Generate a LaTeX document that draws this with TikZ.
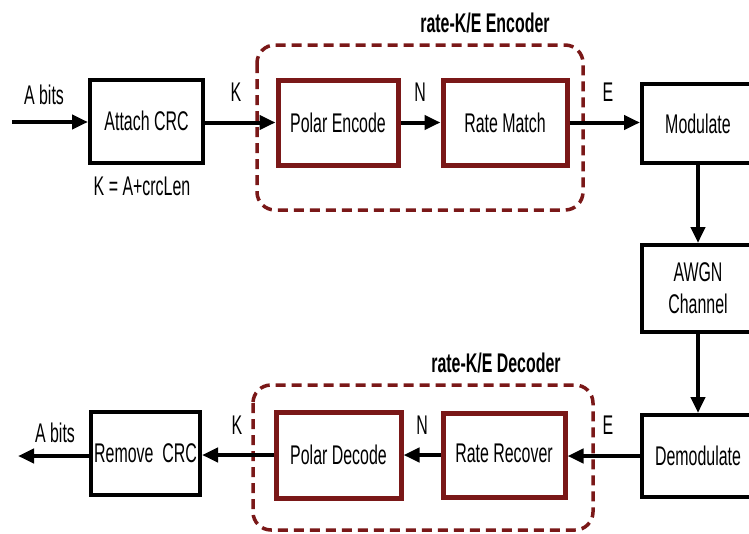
\documentclass[tikz,border=0pt]{standalone}
\usepackage{fontspec}
\setmainfont{Liberation Sans}[FakeStretch=0.59]
\usetikzlibrary{arrows.meta}
\definecolor{dred}{RGB}{122,24,24}
\begin{document}
\begin{tikzpicture}[x=1pt,y=-1pt,
  every node/.style={font=\fontsize{27}{29}\selectfont, inner sep=0pt},
  blk/.style={draw=black, line width=4pt, rectangle, fill=white, align=center},
  rblk/.style={draw=dred, line width=5pt, rectangle, fill=white, align=center},
  grp/.style={draw=dred, line width=3.5pt, dash pattern=on 10pt off 6pt, rounded corners=18pt},
  conn/.style={line width=4pt, -{Triangle[length=16pt,width=14pt]}},
  lbl/.style={font=\fontsize{27}{29}\selectfont},
  ttl/.style={font=\fontsize{27}{29}\selectfont\bfseries}]
\useasboundingbox (0,0) rectangle (749,533);
\clip (0,0) rectangle (749,533);
\fill[white] (0,0) rectangle (749,533);
% group frames
\draw[grp] (257,45) rectangle (583,210);
\draw[grp] (253,385) rectangle (593,530);
% blocks
\node[blk, minimum width=113pt, minimum height=83pt] (attach) at (146.5,121) {Attach CRC};
\node[rblk, minimum width=120pt, minimum height=85pt] (polenc) at (338,122.5) {Polar Encode};
\node[rblk, minimum width=124pt, minimum height=85pt] (ratematch) at (505,122.5) {Rate Match};
\node[blk, minimum width=112pt, minimum height=79pt] (mod) at (698,123.5) {Modulate};
\node[blk, minimum width=112pt, minimum height=87pt, font=\fontsize{27}{32}\selectfont] (awgn) at (698,288.5) {AWGN\\Channel};
\node[blk, minimum width=112pt, minimum height=82pt] (demod) at (698,456) {Demodulate};
\node[rblk, minimum width=122pt, minimum height=84pt] (raterec) at (504,455) {\raisebox{4pt}{Rate Recover}};
\node[rblk, minimum width=125pt, minimum height=86pt] (poldec) at (338.5,455) {Polar Decode};
\node[blk, minimum width=109pt, minimum height=83pt] (remcrc) at (145.5,453) {Remove~ CRC};
% free ends
\coordinate (in) at (12,122);
\coordinate (out) at (18,456);
% connectors
\draw[conn] (in) -- (in -| attach.west);
\draw[conn] (attach.east |- polenc.west) -- (polenc.west);
\draw[conn] (polenc.east) -- (ratematch.west);
\draw[conn] (ratematch.east) -- (ratematch.east -| mod.west);
\draw[conn] (mod.south) -- (awgn.north);
\draw[conn] (awgn.south) -- (demod.north);
\draw[conn] (demod.west) -- (demod.west -| raterec.east);
\draw[conn] (raterec.west) -- (poldec.east);
\draw[conn] (poldec.west) -- (poldec.west -| remcrc.east);
\draw[conn] (out -| remcrc.west) -- (out);
% labels
\node[lbl] (labin) at (44,95) {A bits};
\node[lbl] (lk1) at (236,92) {K};
\node[lbl] (lkeq) at (142,186) {K = A+crcLen};
\node[lbl] (ln1) at (420,92) {N};
\node[lbl] (le1) at (608,92) {E};
\node[ttl] (tenc) at (485,23) {rate-K/E Encoder};
\node[ttl] (tdec) at (496,363) {rate-K/E Decoder};
\node[lbl] (labout) at (55,433) {A bits};
\node[lbl] (lk2) at (237,425) {K};
\node[lbl] (ln2) at (422,425) {N};
\node[lbl] (le2) at (608,425) {E};
\end{tikzpicture}
\end{document}
